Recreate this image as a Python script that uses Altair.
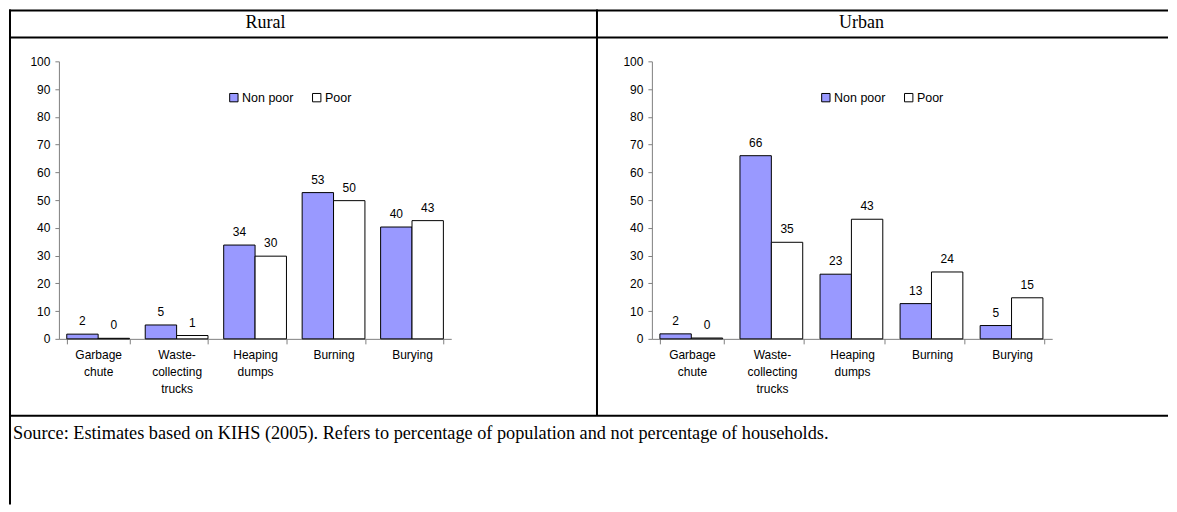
import altair as alt
import pandas as pd

# ---------------- data ----------------
categories = ["Garbage chute", "Waste-collecting trucks", "Heaping dumps", "Burning", "Burying"]
groups = ["Non poor", "Poor"]
rural_nonpoor = [1.7, 5.0, 33.8, 52.7, 40.3]
rural_poor = [0.2, 1.2, 29.8, 49.8, 42.6]
urban_nonpoor = [1.8, 66.0, 23.3, 12.7, 4.8]
urban_poor = [0.3, 34.8, 43.1, 24.1, 14.8]
panel_titles = ["Rural", "Urban"]
source_note = ["Source: Estimates based on KIHS (2005). Refers to percentage of population and not percentage of households."]
y_ticks = list(range(0, 101, 10))
bar_colors = ["#9999FF", "#FFFFFF"]

# ---------------- layout ----------------
H = 496
Y0 = 330     # local y of value 0
Y100 = 52    # local y of value 100
LINE_W = 2


def panel(title, nonpoor, poor, width, x_range, legend_x, title_x, left_border=False, divider=False, source=False):
    df = pd.DataFrame({
        "Method": categories * 2,
        "Group": [groups[0]] * len(categories) + [groups[1]] * len(categories),
        "Value": nonpoor + poor,
    })
    base = alt.Chart(df)
    x = alt.X(
        "Method:N", sort=categories,
        scale=alt.Scale(range=x_range, paddingInner=0.2, paddingOuter=0.1),
        axis=alt.Axis(
            title=None, labelAngle=0, offset=-(H - Y0), tickBand="extent",
            labelExpr="split(replace(datum.label, '-', '- '), ' ')",
            labelLineHeight=17, labelPadding=6, tickSize=5, labelBaseline="top",
        ),
    )
    y = alt.Y(
        "Value:Q",
        scale=alt.Scale(domain=[0, 100], range=[Y0, Y100], nice=False, zero=True),
        axis=alt.Axis(title=None, values=y_ticks, offset=-x_range[0], grid=False,
                      tickSize=4, labelPadding=5),
    )
    xo = alt.XOffset("Group:N", sort=groups, scale=alt.Scale(paddingInner=0))
    color = alt.Color(
        "Group:N", sort=groups,
        scale=alt.Scale(domain=groups, range=bar_colors),
        legend=alt.Legend(
            title=None, orient="none", legendX=legend_x, legendY=82, direction="horizontal",
            symbolType="square", symbolSize=70, symbolStrokeColor="black", symbolStrokeWidth=1,
            labelFontSize=12.5, labelFont="Liberation Sans", labelColor="black",
            columnPadding=17, labelOffset=2,
        ),
    )
    bars = base.mark_bar(stroke="black", strokeWidth=1).encode(x=x, xOffset=xo, y=y, color=color)
    labels = base.mark_text(dy=-13, baseline="middle", fontSize=12, font="Liberation Sans", color="black").encode(
        x=alt.X("Method:N", sort=categories), xOffset=alt.XOffset("Group:N", sort=groups), y="Value:Q",
        text=alt.Text("Value:Q", format=".0f"),
    )
    head = alt.Chart(pd.DataFrame({"t": [title]})).mark_text(
        font="Liberation Serif", fontSize=18, align="center", baseline="middle", color="black"
    ).encode(x=alt.value(title_x), y=alt.value(14), text="t:N")

    one = alt.Chart(pd.DataFrame({"k": [0]}))
    rules = [
        one.mark_rule(color="black", strokeWidth=LINE_W).encode(x=alt.value(0), x2=alt.value(width), y=alt.value(1)),
        one.mark_rule(color="black", strokeWidth=LINE_W).encode(x=alt.value(0), x2=alt.value(width), y=alt.value(28)),
        one.mark_rule(color="black", strokeWidth=LINE_W).encode(x=alt.value(0), x2=alt.value(width), y=alt.value(407)),
    ]
    if left_border:
        rules.append(one.mark_rule(color="black", strokeWidth=LINE_W).encode(x=alt.value(1), y=alt.value(0), y2=alt.value(H)))
    if divider:
        rules.append(one.mark_rule(color="black", strokeWidth=LINE_W).encode(x=alt.value(width), y=alt.value(0), y2=alt.value(407)))
    layers = rules + [bars, labels, head]
    if source:
        layers.append(
            alt.Chart(pd.DataFrame({"s": source_note})).mark_text(
                font="Liberation Serif", fontSize=18.3, align="left", baseline="middle", color="black"
            ).encode(x=alt.value(4), y=alt.value(425), text="s:N")
        )
    return alt.layer(*layers).properties(width=width, height=H)


rural = panel(panel_titles[0], rural_nonpoor, rural_poor, 589, [50, 443], 219, 257,
              left_border=True, divider=True, source=True)
urban = panel(panel_titles[1], urban_nonpoor, urban_poor, 572, [55, 456], 223, 265)

chart = (
    alt.hconcat(rural, urban, spacing=0, bounds="flush")
    .resolve_scale(color="independent")
    .resolve_legend(color="independent")
    .properties(padding=0)
    .configure_view(stroke=None)
    .configure_axis(labelFont="Liberation Sans", labelFontSize=12, labelColor="black",
                    domainColor="#808080", tickColor="#808080")
)

chart.save("out.html", embed_options={"renderer": "svg", "actions": False})
